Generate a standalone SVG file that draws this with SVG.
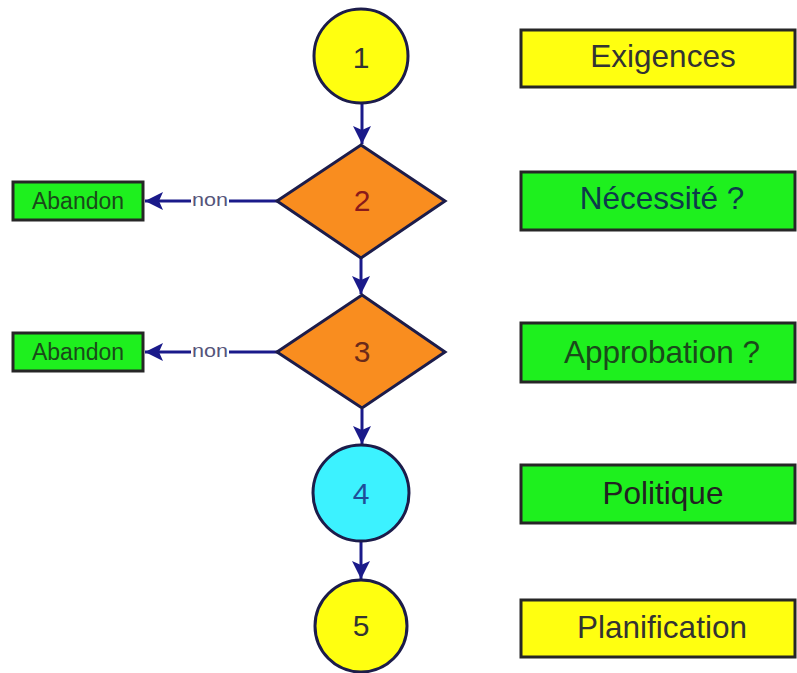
<svg xmlns="http://www.w3.org/2000/svg" width="797" height="673" viewBox="0 0 797 673">
<defs>
<style>
text{font-family:"Liberation Sans",Arial,sans-serif;text-anchor:middle}
.num{font-size:30px}
.lbl{font-size:31.5px}
.ab{font-size:23px;fill:#1a4a1a}
.circ{stroke:#1c1c4a;stroke-width:3}
.dia{fill:#f98d1f;stroke:#1c1c4a;stroke-width:3}
.box{stroke:#262626;stroke-width:3}
.green{fill:#1ef01e}
.yellow{fill:#ffff10}
.edge{stroke:#1a1a8a;stroke-width:3;fill:none}
.non{font-size:18px;fill:#55557a}
</style>
<marker id="arr" markerUnits="userSpaceOnUse" markerWidth="20" markerHeight="18" refX="18" refY="9" orient="auto">
<path d="M0,0 L18,9 L0,18 L4,9 z" fill="#1a1a8a"/>
</marker>
</defs>
<rect width="797" height="673" fill="#ffffff"/>
<g id="connectors">
<line class="edge" x1="362" y1="104" x2="362" y2="144" marker-end="url(#arr)"/>
<line class="edge" x1="361" y1="258" x2="361" y2="294" marker-end="url(#arr)"/>
<line class="edge" x1="362" y1="409" x2="362" y2="444" marker-end="url(#arr)"/>
<line class="edge" x1="361" y1="542" x2="361" y2="579" marker-end="url(#arr)"/>
<line class="edge" x1="277" y1="201" x2="229" y2="201"/>
<line class="edge" x1="191" y1="201" x2="145" y2="201" marker-end="url(#arr)"/>
<text class="non" x="210" y="206" textLength="36" lengthAdjust="spacingAndGlyphs">non</text>
<line class="edge" x1="277" y1="352" x2="229" y2="352"/>
<line class="edge" x1="191" y1="352" x2="145" y2="352" marker-end="url(#arr)"/>
<text class="non" x="210" y="357" textLength="36" lengthAdjust="spacingAndGlyphs">non</text>
</g>
<g id="n1">
<circle class="circ yellow" cx="361" cy="56" r="47"/>
<text class="num" x="361" y="68" fill="#333333">1</text>
</g>
<g id="n2">
<polygon class="dia" points="361,145 445,201 361,258 277,201"/>
<text class="num" x="362" y="211" fill="#8a1a1a">2</text>
</g>
<g id="n3">
<polygon class="dia" points="362,295 445,352 362,408 277,352"/>
<text class="num" x="362" y="362" fill="#6a2a1a">3</text>
</g>
<g id="n4">
<circle class="circ" fill="#3cf2ff" cx="361" cy="493" r="48"/>
<text class="num" x="361" y="504" fill="#1f4e99">4</text>
</g>
<g id="n5">
<circle class="circ yellow" cx="361" cy="626" r="46"/>
<text class="num" x="361" y="636" fill="#333333">5</text>
</g>
<g id="abandon1">
<rect class="box green" x="13" y="182" width="130" height="38"/>
<text class="ab" x="78" y="209">Abandon</text>
</g>
<g id="abandon2">
<rect class="box green" x="13" y="333" width="130" height="38"/>
<text class="ab" x="78" y="360">Abandon</text>
</g>
<g id="lbl1">
<rect class="box yellow" x="521" y="30" width="274" height="57"/>
<text class="lbl" x="663" y="67" fill="#333333">Exigences</text>
</g>
<g id="lbl2">
<rect class="box green" x="521" y="172" width="274" height="58"/>
<text class="lbl" x="662" y="209" fill="#0d3a4a">Nécessité ?</text>
</g>
<g id="lbl3">
<rect class="box green" x="521" y="323" width="274" height="59"/>
<text class="lbl" x="662" y="363" fill="#1a4a1a">Approbation ?</text>
</g>
<g id="lbl4">
<rect class="box green" x="521" y="465" width="274" height="58"/>
<text class="lbl" x="663" y="504" fill="#222222">Politique</text>
</g>
<g id="lbl5">
<rect class="box yellow" x="521" y="600" width="274" height="57"/>
<text class="lbl" x="662" y="638" fill="#333333">Planification</text>
</g>
</svg>
